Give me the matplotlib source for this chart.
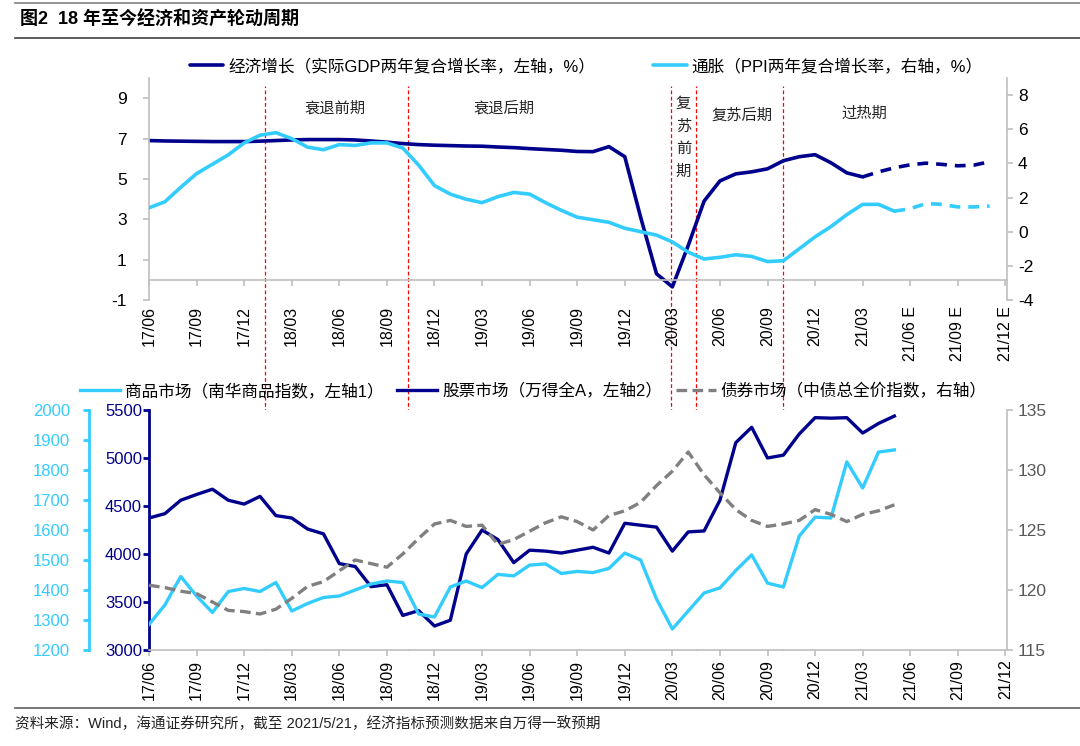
# =========================
# IMPORTS
# =========================
import numpy as np
import matplotlib
matplotlib.use("Agg")
import matplotlib.pyplot as plt
from matplotlib.lines import Line2D

plt.rcParams['font.family'] = ['Liberation Sans', 'Noto Sans CJK SC', 'DejaVu Sans']
plt.rcParams['axes.unicode_minus'] = False

# =========================
# DATA (month index 0 = 2017/06)
# =========================
top_ticks = ["17/06", "17/09", "17/12", "18/03", "18/06", "18/09", "18/12", "19/03", "19/06",
             "19/09", "19/12", "20/03", "20/06", "20/09", "20/12", "21/03",
             "21/06 E", "21/09 E", "21/12 E"]
bottom_ticks = ["17/06", "17/09", "17/12", "18/03", "18/06", "18/09", "18/12", "19/03", "19/06",
                "19/09", "19/12", "20/03", "20/06", "20/09", "20/12", "21/03",
                "21/06", "21/09", "21/12"]

# real GDP two-year compound growth, % (left axis), monthly from 17/06
gdp = [6.9, 6.88, 6.87, 6.86, 6.85, 6.85, 6.85, 6.87, 6.9, 6.93, 6.95, 6.95, 6.95, 6.93,
       6.88, 6.82, 6.75, 6.7, 6.67, 6.65, 6.63, 6.62, 6.58, 6.55, 6.5, 6.46, 6.42, 6.36,
       6.35, 6.6, 6.1, 3.1, 0.3, -0.35, 1.7, 3.9, 4.9, 5.25, 5.35, 5.5, 5.9, 6.1, 6.2,
       5.8, 5.3, 5.1]
gdp_fc = [5.1, 5.35, 5.55, 5.7, 5.78, 5.72, 5.65, 5.68, 5.85]          # 21/03 - 21/11 E

# PPI two-year compound growth, % (right axis)
ppi = [1.4, 1.75, 2.6, 3.4, 3.95, 4.5, 5.2, 5.65, 5.8, 5.45, 4.95, 4.8, 5.1, 5.05, 5.2,
       5.2, 4.9, 3.9, 2.7, 2.2, 1.9, 1.7, 2.05, 2.3, 2.2, 1.7, 1.25, 0.85, 0.7, 0.55, 0.2,
       0.0, -0.2, -0.6, -1.2, -1.6, -1.5, -1.35, -1.45, -1.75, -1.7, -1.0, -0.3, 0.3,
       1.0, 1.6, 1.6, 1.2]
ppi_fc = [1.2, 1.35, 1.65, 1.6, 1.45, 1.45, 1.5]                       # 21/05 - 21/11 E

# Nanhua commodity index (left axis 1)
commodity = [1285, 1350, 1445, 1380, 1325, 1395, 1405, 1395, 1425, 1330, 1355, 1375, 1380,
             1400, 1420, 1430, 1425, 1320, 1310, 1410, 1430, 1408, 1452, 1447, 1483, 1487,
             1455, 1462, 1458, 1472, 1523, 1500, 1370, 1270, 1330, 1390, 1407, 1465, 1517,
             1423, 1410, 1580, 1643, 1640, 1827, 1740, 1860, 1867]
# Wind All A index (left axis 2)
stock = [4375, 4420, 4560, 4620, 4675, 4560, 4520, 4600, 4400, 4375, 4260, 4210, 3900, 3870,
         3660, 3680, 3360, 3410, 3250, 3310, 4000, 4250, 4150, 3910, 4040, 4030, 4010, 4040,
         4070, 4010, 4320, 4300, 4280, 4030, 4230, 4240, 4560, 5160, 5320, 5000, 5030, 5250,
         5420, 5415, 5420, 5260, 5360, 5437]
# ChinaBond total net price index (right axis)
bond = [120.4, 120.2, 119.9, 119.7, 119.0, 118.3, 118.2, 118.0, 118.4, 119.3, 120.3, 120.7,
        121.6, 122.5, 122.2, 121.9, 123.0, 124.3, 125.5, 125.8, 125.3, 125.4, 123.8, 124.2,
        124.9, 125.6, 126.1, 125.7, 125.0, 126.2, 126.6, 127.3, 128.7, 129.9, 131.5, 129.6,
        128.1, 126.7, 125.8, 125.3, 125.5, 125.8, 126.7, 126.3, 125.7, 126.3, 126.6, 127.1]

# cycle phase boundaries (months) and labels
phase_lines = [7.3, 16.3, 32.9, 34.5, 40.0]
phase_names = ["衰退前期", "衰退后期", "复\n苏\n前\n期", "复苏后期", "过热期"]
phase_x = [11.7, 22.4, 33.7, 37.4, 45.1]
phase_y = [8.5, 8.5, 7.05, 8.15, 8.25]

# =========================
# STYLE
# =========================
NAVY = "#00008C"
CYAN = "#33CCFF"
GRAY = "#808080"
SPINE = "#BFBFBF"
RED = "#FF0000"

W, H = 1080, 746


def box(l, t, r, b):
    return [l / W, 1 - b / H, (r - l) / W, (b - t) / H]


fig = plt.figure(figsize=(W / 100, H / 100), dpi=100)

# =========================
# TOP PANEL
# =========================
ax1 = fig.add_axes(box(149, 78, 1007, 300))
ax1r = ax1.twinx()

# move the x axis line to 0 first (this resets tick settings)
ax1.spines['bottom'].set_position(('data', 0))

m_gdp = np.arange(len(gdp))
m_gdp_fc = np.arange(len(gdp) - 1, len(gdp) - 1 + len(gdp_fc))
m_ppi = np.arange(len(ppi))
m_ppi_fc = np.arange(len(ppi) - 1, len(ppi) - 1 + len(ppi_fc))

l_gdp, = ax1.plot(m_gdp, gdp, color=NAVY, lw=2.6, solid_capstyle='round')
ax1.plot(m_gdp_fc, gdp_fc, color=NAVY, lw=2.6, dashes=(3, 2.2))
l_ppi, = ax1r.plot(m_ppi, ppi, color=CYAN, lw=2.6, solid_capstyle='round')
ax1r.plot(m_ppi_fc, ppi_fc, color=CYAN, lw=2.6, dashes=(3, 2.2))

ax1.set_xlim(0, 54.1)
ax1.set_ylim(-1, 10)
ax1.set_yticks([-1, 1, 3, 5, 7, 9])
ax1r.set_ylim(-4, 9)
ax1r.set_yticks(np.arange(-4, 9, 2))

ax1.set_xticks(np.arange(0, 55, 3))
ax1.set_xticklabels(top_ticks, rotation=90)

for a in (ax1, ax1r):
    a.spines['top'].set_visible(False)
    for s in a.spines.values():
        s.set_color(SPINE)
        s.set_linewidth(1.2)
ax1.spines['right'].set_visible(False)
ax1r.spines['left'].set_visible(False)
ax1r.spines['bottom'].set_visible(False)

ax1.tick_params(axis='x', direction='out', length=4, width=1.2, color=SPINE,
                labelsize=11.5, pad=15)
ax1.tick_params(axis='y', direction='out', length=4, width=1.2, color=SPINE,
                labelsize=12.5, pad=12)
ax1r.tick_params(axis='y', direction='out', length=4, width=1.2, color=SPINE,
                 labelsize=12.5, pad=4)

for name, x, y in zip(phase_names, phase_x, phase_y):
    ax1.text(x, y, name, ha='center', va='center', fontsize=11,
             family=['Noto Sans CJK SC'], linespacing=1.45, color="#222222")

# phase boundaries crossing both panels
for m in phase_lines:
    ax1.axvline(m, ymin=(300 - 650) / 222, ymax=(300 - 86) / 222, color=RED,
                lw=0.9, dashes=(3, 2), clip_on=False, zorder=0)

fig.legend([l_gdp, l_ppi],
           ["经济增长（实际GDP两年复合增长率，左轴，%）", "通胀（PPI两年复合增长率，右轴，%）"],
           loc='center', bbox_to_anchor=(0.543, 0.9115), ncol=2, frameon=False,
           fontsize=12, handlelength=2.0, handletextpad=0.3, columnspacing=3.5)

# =========================
# BOTTOM PANEL
# =========================
ax2 = fig.add_axes(box(149, 410, 1007, 650))
ax2c = ax2.twinx()
ax2b = ax2.twinx()

m_bot = np.arange(len(stock))
l_com, = ax2c.plot(m_bot, commodity, color=CYAN, lw=2.4)
l_stk, = ax2.plot(m_bot, stock, color=NAVY, lw=2.4)
l_bnd, = ax2b.plot(m_bot, bond, color=GRAY, lw=2.4, dashes=(3.2, 1.6))

ax2.set_xlim(0, 54.1)
ax2.set_ylim(3000, 5500)
ax2.set_yticks(np.arange(3000, 5501, 500))
ax2c.set_ylim(1200, 2000)
ax2c.set_yticks(np.arange(1200, 2001, 100))
ax2b.set_ylim(115, 135)
ax2b.set_yticks(np.arange(115, 136, 5))

ax2.set_xticks(np.arange(0, 55, 3))
ax2.set_xticklabels(bottom_ticks, rotation=90)

for a in (ax2, ax2c, ax2b):
    for s in a.spines.values():
        s.set_visible(False)

ax2.spines['bottom'].set_visible(True)
ax2.spines['bottom'].set_color(SPINE)
ax2.spines['bottom'].set_linewidth(1.2)
ax2.spines['left'].set_visible(True)
ax2.spines['left'].set_color(NAVY)
ax2.spines['left'].set_linewidth(2)

ax2c.spines['left'].set_visible(True)
ax2c.spines['left'].set_color(CYAN)
ax2c.spines['left'].set_linewidth(2)
ax2c.spines['left'].set_position(('outward', 43))
ax2c.yaxis.set_ticks_position('left')
ax2c.yaxis.set_label_position('left')

ax2b.spines['right'].set_visible(True)
ax2b.spines['right'].set_color(SPINE)
ax2b.spines['right'].set_linewidth(1.2)

ax2.tick_params(axis='x', direction='out', length=4, width=1.2, color=SPINE,
                labelsize=11.5, pad=3)
ax2.tick_params(axis='y', direction='out', length=4, width=2, color=NAVY,
                labelcolor=NAVY, labelsize=12, pad=1)
ax2c.tick_params(axis='y', direction='out', length=4, width=2, color=CYAN,
                 labelcolor=CYAN, labelsize=12, pad=10)
ax2b.tick_params(axis='y', direction='out', length=4, width=1.2, color=SPINE,
                 labelcolor="#595959", labelsize=12.5, pad=4)

fig.legend([l_com, l_stk, l_bnd],
           ["商品市场（南华商品指数，左轴1）", "股票市场（万得全A，左轴2）",
            "债券市场（中债总全价指数，右轴）"],
           loc='center', bbox_to_anchor=(0.494, 0.476), ncol=3, frameon=False,
           fontsize=12, handlelength=2.4, handletextpad=0.3, columnspacing=0.8)

# =========================
# TITLE / SOURCE
# =========================
fig.text(20 / W, 1 - 20 / H, "图2  18 年至今经济和资产轮动周期", fontsize=13,
         fontweight='bold', va='center', ha='left')
fig.text(15 / W, 1 - 724 / H,
         "资料来源：Wind，海通证券研究所，截至 2021/5/21，经济指标预测数据来自万得一致预期",
         fontsize=10.5, va='center', ha='left', color="#222222")

fig.add_artist(Line2D([15 / W, 1], [1 - 3 / H, 1 - 3 / H], color="#808080", lw=1.2,
                      transform=fig.transFigure))
fig.add_artist(Line2D([15 / W, 1], [1 - 38 / H, 1 - 38 / H], color="#404040", lw=1.2,
                      transform=fig.transFigure))
fig.add_artist(Line2D([15 / W, 1], [1 - 708 / H, 1 - 708 / H], color="#606060", lw=1.2,
                      transform=fig.transFigure))

fig.savefig("out.png", dpi=100)
